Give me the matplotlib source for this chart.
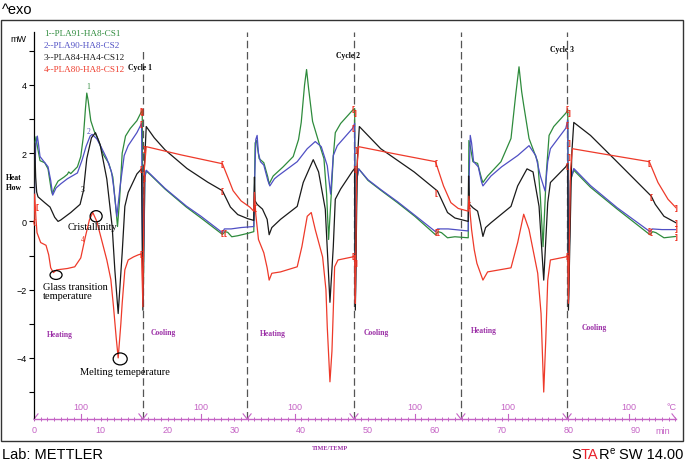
import matplotlib
matplotlib.use('Agg')
import matplotlib.pyplot as plt
from matplotlib.patches import Ellipse, Rectangle

# ---- 数据 (从图中读取, 时间 min / 热流 mW) ----
labels = ['1--PLA91-HA8-CS1', '2--PLA90-HA8-CS2', '3--PLA84-HA4-CS12', '4--PLA80-HA8-CS12']
colors = ['#2e8b3c', '#4f4fc4', '#1a1a1a', '#ee3a2a']

t_1 = [0.0, 0.15, 0.3, 0.5, 0.9, 1.6, 2.1, 2.6, 2.75, 3.1, 3.6, 4.5, 5.0, 5.2, 5.5, 6.5, 7.0, 7.4, 7.7, 7.9,
       8.1, 8.5, 9.0, 9.6, 10.4, 11.2, 11.8, 12.2, 12.5, 12.8, 13.2, 13.7, 14.4, 15.4, 16.2,
       16.35, 16.6, 16.8, 17.5, 19.6, 22.8, 25.0, 28.2, 28.6, 29.0, 29.6, 30.5, 32.0, 32.9,
       33.0, 33.1, 33.3, 33.7, 34.4, 35.0, 35.2, 35.8, 37.3, 38.8, 39.6, 40.0, 40.5, 40.8, 41.1, 41.7,
       42.6, 43.4, 43.8, 44.1, 44.5, 44.8, 45.1, 45.9, 47.7, 48.0,
       48.1, 48.3, 48.6, 50.0, 52.0, 54.4, 57.0, 60.1, 60.5, 61.0, 61.9, 63.0, 65.0,
       65.05, 65.1, 65.3, 65.7, 66.4, 67.0, 67.2, 67.9, 69.9, 71.4, 72.1, 72.6, 73.0, 73.3, 74.1,
       75.4, 75.8, 76.2, 76.5, 76.7, 77.1, 77.8, 79.6, 79.9,
       80.0, 80.3, 80.8, 83.3, 87.3, 92.2, 92.6, 93.1, 94.3, 96.1]
hf_1 = [0.2, 2.3, 2.48, 2.2, 1.78, 1.72, 1.54, 0.9, 0.8, 1.0, 1.18, 1.3, 1.38, 1.45, 1.4, 1.6, 1.9, 2.5, 3.3, 3.76,
        3.55, 2.95, 2.65, 2.4, 1.95, 1.7, 1.3, 0.5, -0.15, 0.6, 2.0, 2.5, 2.72, 2.95, 3.26,
        -2.3, 1.3, 1.48, 1.35, 0.95, 0.42, 0.1, -0.38, -0.3, -0.32, -0.45, -0.42, -0.35, -0.3,
        1.0, 2.3, 2.37, 1.84, 1.72, 1.3, 1.1, 1.33, 1.6, 1.9, 2.4, 2.9, 4.0, 4.45, 3.9, 2.93,
        2.34, 1.84, 0.8, -0.53, 0.8, 1.9, 2.6, 2.87, 3.26, 3.3,
        -2.3, 1.2, 1.54, 1.2, 0.9, 0.55, 0.15, -0.39, -0.3, -0.33, -0.48, -0.45, -0.48,
        1.0, 2.37, 2.2, 1.75, 1.7, 1.25, 1.14, 1.33, 1.75, 2.43, 3.7, 4.53, 3.8, 3.41, 2.43,
        1.75, 0.7, -0.74, 0.6, 1.45, 2.52, 2.78, 3.17, 3.26,
        -2.3, 1.2, 1.5, 1.0, 0.36, -0.39, -0.3, -0.33, -0.48, -0.44]

t_2 = [0.0, 0.25, 0.5, 0.65, 0.9, 1.5, 2.1, 2.5, 2.8, 3.3, 4.0, 5.0, 6.5, 7.2, 7.8, 8.4, 8.7, 9.4, 10.0,
       10.9, 11.6, 11.9, 12.4, 12.9, 13.5, 14.1, 15.4, 16.1,
       16.3, 16.6, 16.8, 17.5, 19.6, 22.8, 25.0, 28.2, 28.5, 29.5, 31.0, 32.9,
       33.0, 33.2, 33.4, 33.6, 33.9, 34.4, 35.0, 35.3, 36.0, 36.5, 39.4, 40.9, 42.1, 43.0, 43.9, 44.4,
       44.8, 45.4, 47.7, 48.0,
       48.1, 48.3, 48.6, 50.0, 52.0, 54.4, 57.0, 60.1, 60.4, 62.0, 65.0,
       65.1, 65.3, 65.5, 65.8, 66.5, 67.0, 67.2, 68.4, 70.0, 72.4, 74.1, 75.1, 75.8, 76.5, 76.9, 77.3,
       79.6, 79.9,
       80.0, 80.3, 80.8, 83.3, 87.3, 92.2, 92.5, 94.0, 96.1]
hf_2 = [0.3, 2.2, 2.5, 2.3, 1.9, 1.75, 1.6, 1.2, 0.77, 0.98, 1.1, 1.25, 1.42, 1.8, 2.2, 2.5, 2.55, 2.42, 2.2,
        1.84, 1.45, 1.04, 0.15, 1.04, 1.93, 2.22, 2.6, 2.87,
        -2.4, 1.3, 1.5, 1.37, 0.97, 0.45, 0.15, -0.33, -0.22, -0.22, -0.18, -0.15,
        1.0, 2.4, 2.52, 2.0, 1.75, 1.65, 1.2, 1.04, 1.25, 1.33, 1.75, 2.13, 2.34, 2.19, 1.63, 0.8,
        1.93, 2.22, 2.73, 2.87,
        -2.4, 1.2, 1.54, 1.22, 0.92, 0.58, 0.18, -0.3, -0.22, -0.22, -0.28,
        1.0, 2.52, 2.3, 1.75, 1.6, 1.15, 1.04, 1.33, 1.6, 1.93, 2.22, 1.93, 1.33, 0.89, 1.75, 2.13,
        2.73, 2.96,
        -2.4, 1.2, 1.55, 1.05, 0.4, -0.3, -0.22, -0.24, -0.24]

t_3 = [0.0, 0.1, 0.25, 0.4, 0.6, 1.6, 2.4, 3.1, 3.6, 4.0, 5.5, 6.9, 7.4, 7.9, 8.6, 9.2, 9.9, 10.9, 11.7,
       12.1, 12.6, 13.2, 13.6, 14.1, 15.4, 16.1,
       16.3, 16.5, 16.8, 18.0, 19.6, 22.9, 26.0, 28.2, 29.4, 30.5, 32.0, 32.9,
       33.0, 33.1, 33.4, 34.2, 34.9, 35.2, 35.6, 36.9, 39.4, 40.3, 41.8, 42.6, 43.6, 44.3, 44.8, 45.1,
       45.9, 47.7, 48.0,
       48.1, 48.4, 48.7, 51.9, 56.9, 60.4, 61.9, 63.0, 65.0,
       65.05, 65.2, 65.7, 66.4, 66.8, 67.2, 67.6, 68.4, 71.4, 72.4, 73.8, 74.7, 75.6, 76.3, 76.9, 77.3,
       79.6, 79.9,
       80.0, 80.5, 80.8, 83.3, 87.0, 92.4, 93.0, 94.3, 96.1]
hf_3 = [0.1, 2.3, 1.3, 0.86, 0.72, 0.55, 0.42, 0.12, 0.0, 0.04, 0.26, 0.5, 0.9, 1.84, 2.45, 2.6, 2.25, 1.24, -0.15,
        -1.42, -2.7, -0.92, 0.44, 0.85, 1.39, 1.54,
        -2.6, 1.5, 2.78, 2.45, 2.1, 1.55, 1.15, 0.9, 0.42, 0.2, 0.08, 0.03,
        1.3, 0.6, 0.5, 0.36, 0.06, -0.39, -0.18, 0.06, 0.44, 1.14, 1.81, 1.45, 0.36, -2.37, -0.74, 0.65,
        0.95, 1.48, 1.55,
        -2.6, 1.8, 2.78, 2.13, 1.45, 0.89, 0.26, 0.1, 0.0,
        1.33, 0.5, 0.4, 0.3, -0.04, -0.44, -0.18, -0.04, 0.44, 1.04, 1.54, 1.45, 0.44, -1.72, 0.55, 1.14,
        1.6, 1.7,
        -2.6, 2.0, 2.9, 2.52, 1.8, 0.74, 0.5, 0.15, -0.04]

t_4 = [0.0, 0.1, 0.3, 0.45, 1.0, 1.8, 2.2, 2.5, 2.9, 3.4, 5.0, 6.1, 7.0, 7.7, 8.3, 8.8, 9.4, 9.8, 10.9,
       11.5, 11.9, 12.3, 12.6, 13.0, 13.2, 13.6, 14.1, 14.9, 15.6, 16.1,
       16.3, 16.5, 16.8, 22.0, 28.2, 29.0, 29.8, 31.0, 32.3, 32.9,
       33.0, 33.2, 33.6, 34.4, 34.9, 35.2, 35.6, 36.9, 39.4, 40.1, 40.9, 41.5, 42.1, 43.2, 43.7, 43.9,
       44.3, 44.6, 44.8, 45.0, 45.5, 47.7, 48.0,
       48.1, 48.3, 48.6, 54.0, 60.1, 61.3, 62.4, 63.5, 65.0,
       65.1, 65.3, 65.5, 65.9, 66.3, 67.2, 67.9, 71.4, 72.4, 73.3, 74.1, 75.4, 75.9, 76.3, 76.6, 76.9,
       77.3, 79.6, 79.9,
       80.0, 80.3, 80.6, 86.0, 92.1, 93.4, 94.9, 96.1]
hf_4 = [0.0, 0.8, 0.05, -0.33, -0.62, -0.7, -0.98, -1.36, -1.5, -1.42, -1.38, -1.33, -1.07, -0.44, 0.05, 0.26, 0.0, -0.3, -1.13,
        -1.7, -2.5, -3.4, -4.0, -3.0, -2.4, -1.42, -1.13, -1.04, -0.98, -0.95,
        -2.5, 1.5, 2.19, 1.95, 1.69, 1.3, 0.9, 0.6, 0.42, 0.3,
        0.85, 0.2, -0.53, -0.92, -1.36, -1.72, -1.52, -1.48, -1.33, -0.74, 0.15, 0.26, -0.24, -1.04, -2.0, -3.1,
        -4.7, -3.8, -2.6, -1.33, -1.13, -1.04, -1.0,
        -2.4, 1.5, 2.19, 1.98, 1.75, 1.04, 0.55, 0.38, 0.3,
        0.74, 0.2, -0.24, -0.83, -1.23, -1.72, -1.48, -1.36, -0.62, 0.21, -0.24, -1.52, -2.7, -5.0, -3.5, -1.72,
        -1.13, -1.04, -1.0,
        -2.4, 1.5, 2.13, 1.95, 1.75, 1.14, 0.65, 0.4]

# 红色积分界限标记
mark_t = [0.0, 0.4, 16.0, 16.25, 16.0, 16.0, 16.0, 16.5, 16.5, 28.2, 28.2, 28.2, 28.6,
          33.1, 47.8, 48.1, 47.8, 48.0, 47.8, 48.2, 48.2, 60.1, 60.2, 60.1, 60.4,
          65.1, 79.7, 80.1, 79.7, 79.7, 79.7, 80.2, 80.2, 92.1, 92.3, 92.1, 92.3,
          96.1, 96.1, 96.1, 96.1]
mark_hf = [0.0, 0.45, 3.26, 3.23, 2.87, 1.55, -0.95, 2.15, 1.3, 1.69, 0.9, -0.33, -0.33,
           0.4, 3.3, 3.2, 2.75, 1.55, -1.0, 2.1, -1.2, 1.72, 0.85, -0.3, -0.3,
           0.5, 3.3, 3.2, 2.85, 1.65, -1.0, 2.3, 1.9, 1.72, 0.74, -0.28, -0.3,
           0.4, -0.04, -0.22, -0.44]
mark_txt = ['(', '[', '[', ']', '[', '[', '[', ']', ']', '[', '[', '[', '[',
            '[', '[', ']', '[', '[', '[', ']', ']', '[', '[', '[', '[',
            '[', '[', ']', '[', '[', '[', ']', ']', '[', '[', '[', '[',
            ']', ']', ']', ']']

seg_t = [0.0, 16.3, 31.9, 47.9, 63.9, 79.8]     # 段落分界
temp100_t = [7.0, 25.0, 39.0, 57.0, 71.0, 89.0]  # 100 °C 位置
cycle_t = [15.9, 47.0, 79.1]
cycle_hf = [4.53, 4.89, 5.04]
heat_t = [3.8, 35.8, 67.4]
heat_hf = [-3.3, -3.28, -3.17]
cool_t = [19.3, 51.3, 83.8]
cool_hf = [-3.25, -3.25, -3.1]

serif = ['Liberation Serif', 'DejaVu Serif']
sans = ['Liberation Sans', 'DejaVu Sans']
purple = '#c564c5'
dpurple = '#9b2fa6'

fig = plt.figure(figsize=(6.85, 4.64), dpi=100)
ax = fig.add_axes([34 / 685, 44 / 464, 642 / 685, 387 / 464])
ax.set_xlim(0, 96.1)
ax.set_ylim(-5.79, 5.55)

# 外框
fig.patches.append(Rectangle((1 / 685, 22 / 464), 682 / 685, 421 / 464, transform=fig.transFigure,
                             fill=False, edgecolor='#333333', linewidth=1.0))

# 分段虚线
for i, b in enumerate(seg_t[1:]):
    ax.axvline(b, ymin=0, ymax=0.951 if i == 0 else 1.0, color='#555555', lw=0.9,
               linestyle=(0, (6, 3)), zorder=1)

# 曲线
for t, hf, c in zip([t_1, t_2, t_3, t_4], [hf_1, hf_2, hf_3, hf_4], colors):
    ax.plot(t, hf, color=c, lw=0.9, zorder=3)

for x, y, s in zip(mark_t, mark_hf, mark_txt):
    ax.text(x, y, s, color='#ee2a1a', fontsize=6, fontweight='bold', ha='center', va='center',
            family=sans, zorder=4)

# 图例文字
for i, (lab, c) in enumerate(zip(labels, colors)):
    ax.text(1.5, 5.51 - i * 0.35, lab, color=c, fontsize=6.6, family=serif, va='center', ha='left')

# 曲线编号
for s, x, y, c in zip(['1', '2', '3', '4'], [8.1, 8.1, 7.2, 7.3], [3.97, 2.64, 0.95, -0.52], colors):
    ax.text(x, y, s, color=c, fontsize=5.5, family=serif, ha='center', va='center')

for i, (x, y) in enumerate(zip(cycle_t, cycle_hf)):
    ax.text(x, y, 'Cycle %d' % (i + 1), fontsize=5.5, fontweight='bold', family=serif,
            ha='center', va='center')
for x, y in zip(heat_t, heat_hf):
    ax.text(x, y, 'Heating', fontsize=5.5, fontweight='bold', family=serif, color=dpurple,
            ha='center', va='center')
for x, y in zip(cool_t, cool_hf):
    ax.text(x, y, 'Cooling', fontsize=5.5, fontweight='bold', family=serif, color=dpurple,
            ha='center', va='center')

# 注释
ax.text(8.7, -0.15, 'Cristallinity', fontsize=7.5, family=serif, ha='center', va='center')
ax.text(1.35, -2.04, 'Glass transition\ntemperature', fontsize=7.5, family=serif, ha='left',
        va='center', linespacing=1.1)
ax.text(13.6, -4.41, 'Melting temeperature', fontsize=7.5, family=serif, ha='center', va='center')
for (x, y, w, h) in [(9.3, 0.15, 1.8, 0.33), (3.3, -1.57, 1.8, 0.26), (12.9, -4.03, 2.1, 0.35)]:
    ax.add_patch(Ellipse((x, y), w, h, fill=False, edgecolor='black', lw=0.9, zorder=5))

# 坐标轴样式
for s in ['top', 'right']:
    ax.spines[s].set_visible(False)
ax.spines['left'].set_color('black')
ax.spines['left'].set_linewidth(0.9)
ax.spines['bottom'].set_color(purple)
ax.spines['bottom'].set_linewidth(1.0)

ax.set_yticks([-4, -2, 0, 2, 4])
ax.set_yticks([-5, -3, -1, 1, 3, 5], minor=True)
ax.tick_params(axis='y', which='both', direction='out', length=3.5, width=0.8, labelsize=6.5, pad=2)
ax.set_xticks(range(0, 91, 10))
ax.set_xticks(range(0, 97), minor=True)
ax.tick_params(axis='x', which='both', direction='inout', length=3, width=0.7, color=purple,
               labelcolor=purple, labelsize=6.5, pad=3)
for lab in ax.get_yticklabels() + ax.get_xticklabels():
    lab.set_family(sans)

# 底部温度轴标记
base = -5.79
for b in seg_t:
    if b == 0:
        ax.plot([b, b + 0.6], [base, base + 0.15], color=purple, lw=0.8, clip_on=False)
    else:
        ax.plot([b - 0.6, b, b + 0.6], [base + 0.15, base, base + 0.15], color=purple, lw=0.8,
                clip_on=False)
ax.plot([95.5, 96.1], [base + 0.15, base], color=purple, lw=0.8, clip_on=False)
for x in temp100_t:
    ax.plot([x, x], [base, base + 0.15], color=purple, lw=0.8, clip_on=False)
    ax.text(x, base + 0.37, '100', color=purple, fontsize=6.5, family=sans, ha='center', va='center')
ax.text(95.4, base + 0.37, '°C', color=purple, fontsize=6.5, family=sans, ha='center', va='center')

# 图外文字
fig.text(663 / 685, 1 - 432 / 464, 'min', color=purple, fontsize=6.5, family=sans, ha='center', va='center')
fig.text(14 / 685, 1 - 183 / 464, 'Heat\nFlow', fontsize=5.5, fontweight='bold', family=serif,
         ha='center', va='center', linespacing=1.4)
fig.text(18 / 685, 1 - 40 / 464, 'mW', fontsize=6.5, family=sans, ha='center', va='center')
fig.text(2 / 685, 1 - 10 / 464, '^exo', fontsize=10.5, family=sans, ha='left', va='center')
fig.text(2 / 685, 1 - 455 / 464, 'Lab: METTLER', fontsize=10.5, family=sans, ha='left', va='center')
fig.text(330 / 685, 1 - 449 / 464, 'TIME/TEMP', fontsize=4.5, fontweight='bold', family=serif,
         color=dpurple, ha='center', va='center')
star = fig.text(683 / 685, 1 - 455 / 464, 'SW 14.00', fontsize=10.5, family=sans, ha='right', va='center')
fig.canvas.draw()
x = star.get_window_extent().x0 / fig.bbox.width - 0.006
# STARe 标志: TA 为红色
parts = [('e', 'black', 7, 0.008), ('R', 'black', 10.5, 0), ('TA', '#e8202a', 10.5, 0), ('S', 'black', 10.5, 0)]
for txt, c, fs, dy in parts:
    tt = fig.text(x, 1 - 455 / 464 + dy, txt, fontsize=fs, family=sans, color=c, ha='right', va='center')
    fig.canvas.draw()
    x = tt.get_window_extent().x0 / fig.bbox.width

plt.savefig('out.png', dpi=100)
